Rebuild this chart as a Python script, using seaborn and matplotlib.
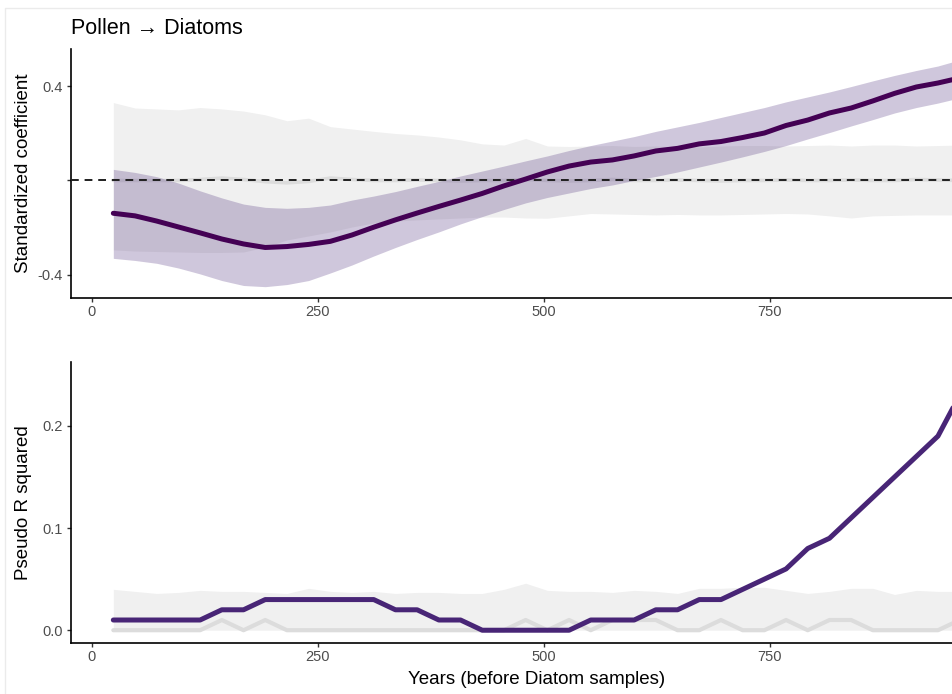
import numpy as np
import pandas as pd
import matplotlib
matplotlib.use("Agg")
import matplotlib.pyplot as plt
from matplotlib.patches import Rectangle
import seaborn as sns

# Lags (years before the diatom samples)
lag_years = [24, 48, 72, 96, 120, 144, 168, 192, 216, 240,
             264, 288, 312, 336, 360, 384, 408, 432, 456, 480,
             504, 528, 552, 576, 600, 624, 648, 672, 696, 720,
             744, 768, 792, 816, 840, 864, 888, 912, 936, 960]

# Standardized coefficient of the pollen -> diatom effect, with its interval
coef_mean = [-0.139, -0.150, -0.172, -0.197, -0.222, -0.248, -0.269, -0.284, -0.280, -0.271,
             -0.258, -0.231, -0.198, -0.167, -0.138, -0.110, -0.083, -0.055, -0.023, 0.006,
             0.036, 0.061, 0.078, 0.087, 0.104, 0.125, 0.136, 0.155, 0.165, 0.182,
             0.201, 0.233, 0.256, 0.286, 0.307, 0.337, 0.369, 0.396, 0.413, 0.434]
coef_upper = [0.047, 0.034, 0.016, -0.011, -0.044, -0.074, -0.100, -0.114, -0.118, -0.114,
              -0.104, -0.083, -0.066, -0.047, -0.025, -0.004, 0.019, 0.040, 0.061, 0.083,
              0.104, 0.127, 0.148, 0.167, 0.186, 0.208, 0.227, 0.246, 0.267, 0.288,
              0.309, 0.333, 0.354, 0.375, 0.398, 0.422, 0.445, 0.466, 0.485, 0.511]
coef_lower = [-0.330, -0.339, -0.351, -0.371, -0.396, -0.424, -0.445, -0.450, -0.441, -0.424,
              -0.392, -0.358, -0.320, -0.284, -0.250, -0.218, -0.184, -0.153, -0.123, -0.095,
              -0.072, -0.053, -0.034, -0.019, 0.000, 0.017, 0.036, 0.057, 0.078, 0.100,
              0.123, 0.148, 0.176, 0.203, 0.231, 0.258, 0.286, 0.309, 0.328, 0.350]

# Null (surrogate) distribution of the coefficient
null_coef_upper = [0.330, 0.307, 0.303, 0.299, 0.309, 0.303, 0.294, 0.278, 0.253, 0.264,
                   0.228, 0.218, 0.208, 0.199, 0.193, 0.184, 0.172, 0.155, 0.150, 0.178,
                   0.146, 0.144, 0.146, 0.148, 0.144, 0.146, 0.142, 0.142, 0.146, 0.148,
                   0.148, 0.146, 0.148, 0.150, 0.146, 0.150, 0.150, 0.146, 0.148, 0.150]
null_coef_lower = [-0.294, -0.299, -0.301, -0.303, -0.305, -0.305, -0.303, -0.282, -0.252, -0.235,
                   -0.218, -0.197, -0.180, -0.172, -0.167, -0.163, -0.159, -0.155, -0.155, -0.159,
                   -0.160, -0.150, -0.140, -0.142, -0.144, -0.146, -0.144, -0.146, -0.146, -0.144,
                   -0.142, -0.140, -0.142, -0.150, -0.159, -0.150, -0.148, -0.146, -0.146, -0.146]
null_coef_median = [0.000, 0.000, 0.000, 0.000, 0.004, 0.010, 0.004, -0.005, -0.010, -0.004,
                    0.010, 0.004, 0.000, 0.000, 0.002, 0.000, -0.002, 0.000, 0.000, 0.004,
                    0.000, -0.002, 0.000, 0.004, 0.000, 0.000, 0.002, 0.000, -0.002, 0.000,
                    0.000, 0.002, 0.000, 0.000, 0.002, 0.000, 0.000, 0.004, 0.002, 0.000]

# Pseudo R squared of the model and of the null distribution
r2_observed = [0.01, 0.01, 0.01, 0.01, 0.01, 0.02, 0.02, 0.03, 0.03, 0.03,
               0.03, 0.03, 0.03, 0.02, 0.02, 0.01, 0.01, 0.00, 0.00, 0.00,
               0.00, 0.00, 0.01, 0.01, 0.01, 0.02, 0.02, 0.03, 0.03, 0.04,
               0.05, 0.06, 0.08, 0.09, 0.11, 0.13, 0.15, 0.17, 0.19, 0.23]
r2_null_upper = [0.040, 0.038, 0.036, 0.037, 0.039, 0.038, 0.038, 0.037, 0.036, 0.041,
                 0.038, 0.037, 0.038, 0.036, 0.037, 0.037, 0.036, 0.036, 0.040, 0.046,
                 0.039, 0.038, 0.038, 0.037, 0.039, 0.038, 0.036, 0.041, 0.041, 0.042,
                 0.042, 0.039, 0.036, 0.038, 0.041, 0.041, 0.035, 0.039, 0.038, 0.038]
r2_null_lower = [0.0] * len(lag_years)
r2_null_median = [0.00, 0.00, 0.00, 0.00, 0.00, 0.01, 0.00, 0.01, 0.00, 0.00,
                  0.00, 0.00, 0.00, 0.00, 0.00, 0.00, 0.00, 0.00, 0.00, 0.01,
                  0.00, 0.01, 0.00, 0.01, 0.01, 0.01, 0.00, 0.00, 0.01, 0.00,
                  0.00, 0.01, 0.00, 0.01, 0.01, 0.00, 0.00, 0.00, 0.00, 0.01]

df = pd.DataFrame({
    "lag": lag_years,
    "coef": coef_mean, "coef_lo": coef_lower, "coef_hi": coef_upper,
    "null_hi": null_coef_upper, "null_lo": null_coef_lower, "null_med": null_coef_median,
    "r2": r2_observed, "r2_null_hi": r2_null_upper, "r2_null_lo": r2_null_lower,
    "r2_null_med": r2_null_median,
})

sns.set_theme(style="ticks")
plt.rcParams["font.family"] = ["Liberation Sans", "DejaVu Sans"]

W, H = 953, 694
fig = plt.figure(figsize=(W / 100, H / 100), dpi=100)

def px_axes(left, top, right, bottom):
    return [left / W, 1 - bottom / H, (right - left) / W, (bottom - top) / H]

ax1 = fig.add_axes(px_axes(71, 49, 1002, 298))
ax2 = fig.add_axes(px_axes(71, 362, 1002, 643))

band_grey = "#F0F0F0"
line_grey = "#DCDCDC"
coef_purple = "#440154"
r2_purple = "#482576"

# --- upper panel: standardized coefficient
ax1.fill_between(df["lag"], df["null_lo"], df["null_hi"], color=band_grey, lw=0, zorder=1)
sns.lineplot(data=df, x="lag", y="null_med", ax=ax1, color=line_grey, lw=2.6, zorder=2)
ax1.fill_between(df["lag"], df["coef_lo"], df["coef_hi"], color="#482878", alpha=0.26,
                 lw=0, zorder=3)
ax1.axhline(0, color="#1F1F1F", lw=1.4, ls=(0, (4.0, 3.0)), zorder=4)
sns.lineplot(data=df, x="lag", y="coef", ax=ax1, color=coef_purple, lw=3.6, zorder=5)
ax1.set_ylim(-0.498, 0.557)
ax1.set_yticks([-0.4, 0.0, 0.4])
ax1.set_yticklabels(["-0.4", "", "0.4"])

# --- lower panel: pseudo R squared
ax2.fill_between(df["lag"], df["r2_null_lo"], df["r2_null_hi"], color=band_grey, lw=0, zorder=1)
sns.lineplot(data=df, x="lag", y="r2_null_med", ax=ax2, color=line_grey, lw=3.0, zorder=2)
sns.lineplot(data=df, x="lag", y="r2", ax=ax2, color=r2_purple, lw=3.6, zorder=5)
ax2.set_ylim(-0.0125, 0.2625)
ax2.set_yticks([0.0, 0.1, 0.2])
ax2.set_yticklabels(["0.0", "0.1", "0.2"])

for ax in (ax1, ax2):
    ax.set_xlim(-22.8, 1006.8)
    ax.set_xticks([0, 250, 500, 750])
    ax.set_xlabel("")
    ax.set_ylabel("")
    for side in ("top", "right"):
        ax.spines[side].set_visible(False)
    for side in ("left", "bottom"):
        ax.spines[side].set_color("black")
        ax.spines[side].set_linewidth(1.2)
    ax.tick_params(axis="both", length=3.0, width=1.0, color="#333333",
                   labelcolor="#4D4D4D", labelsize=10.5)
    ax.tick_params(axis="x", pad=2.2)
    ax.tick_params(axis="y", pad=3.2)
    ax.set_facecolor("white")

# titles and axis titles
fig.text(71 / W, 1 - 34 / H, "Pollen \u2192 Diatoms", fontsize=15.5, color="black",
         ha="left", va="baseline")
fig.text(28.5 / W, 1 - 173.5 / H, "Standardized coefficient", fontsize=13.5,
         rotation=90, rotation_mode="anchor", ha="center", va="baseline", color="black")
fig.text(28.5 / W, 1 - 502.5 / H, "Pseudo R squared", fontsize=13.5,
         rotation=90, rotation_mode="anchor", ha="center", va="baseline", color="black")
fig.text(536.5 / W, 1 - 684 / H, "Years (before Diatom samples)", fontsize=13.5,
         ha="center", va="baseline", color="black")

# thin frame around the plot area
fig.add_artist(Rectangle((5 / W, -0.2), 1.5, 1 - 8 / H + 0.2, transform=fig.transFigure,
                         fill=False, edgecolor="#EBEBEB", lw=1.0, zorder=0))

fig.savefig("out.png", dpi=100)
